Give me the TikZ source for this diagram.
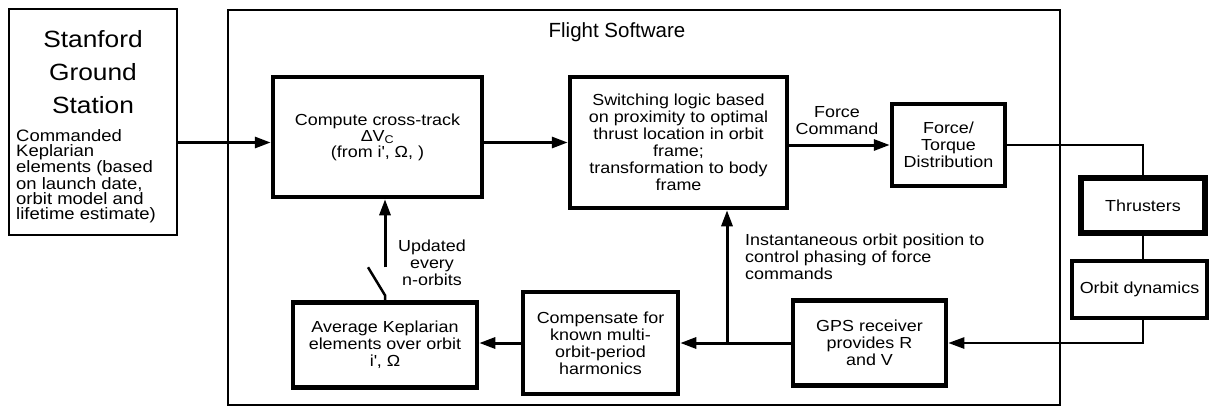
\documentclass[tikz,border=0pt]{standalone}
\usepackage{fontspec}
\setmainfont{Liberation Sans}[FakeStretch=1.12]
\newfontfamily\headfont{Liberation Sans}
\usetikzlibrary{arrows.meta,calc}

\begin{document}
\begin{tikzpicture}[x=1pt, y=-1pt,
    every node/.style={font=\fontsize{16}{17}\selectfont},
    blk/.style={draw, line width=4.5pt, align=center, inner sep=0pt},
    wire/.style={line width=2.5pt},
    arr/.style={line width=3pt, -{Triangle[length=16pt,width=11pt]}}]
  \useasboundingbox (0,0) rectangle (1210,408);

  % Ground station - left side
  \node[draw, line width=2.5pt, minimum width=168pt, minimum height=226pt] (ground) at (93,122) {};
  \node[font=\fontsize{23.5}{33}\selectfont, align=center] (gstitle) at (93,72) {Stanford\\Ground\\Station};
  \node[font=\fontsize{16.5}{15}\selectfont, align=left, anchor=west, inner sep=0pt] (gsnote) at (16,176) {Commanded\\Keplarian\\elements (based\\on launch date,\\orbit model and\\lifetime estimate)};

  % Flight software - middle
  \node[draw, line width=2pt, minimum width=832pt, minimum height=395pt] (flight) at (644,207.5) {};
  \node[font=\headfont\fontsize{20.5}{24}\selectfont] (fstitle) at (617,32) {Flight Software};

  \node[blk, minimum width=209pt, minimum height=120pt] (compute) at (377.5,137) {Compute cross-track\\[-1pt]ΔV\textsubscript{C}\\[-1pt](from i\textquotesingle, Ω, )};
  \node[blk, minimum width=217pt, minimum height=131pt] (logic) at (678.5,142.5) {Switching logic based\\on proximity to optimal\\thrust location in orbit\\frame;\\transformation to body\\frame};
  \node[blk, minimum width=113pt, minimum height=82pt] (ftd) at (948.5,145) {Force/\\Torque\\Distribution};
  \node[align=center] (fcmd) at (837,121) {Force\\Command};

  \node[blk, minimum width=153pt, minimum height=85pt] (gps) at (869.5,343) {GPS receiver\\provides R\\and V};
  \node[blk, minimum width=155pt, minimum height=102pt] (comp) at (600.5,343) {Compensate for\\known multi-\\orbit-period\\harmonics};
  \node[blk, minimum width=184pt, minimum height=85pt] (avg) at (385,345) {Average Keplarian\\elements over orbit\\i\textquotesingle, Ω};
  \node[align=center] (upd) at (432,263) {Updated\\every\\n-orbits};
  \node[align=left, anchor=west, inner sep=0pt] (inst) at (745,257) {Instantaneous orbit position to\\control phasing of force\\commands};

  % Spacecraft - right side
  \node[blk, line width=5.5pt, minimum width=124pt, minimum height=55pt] (thrust) at (1143,205.5) {Thrusters};
  \node[blk, minimum width=135pt, minimum height=57pt] (orbdyn) at (1139.5,289.5) {Orbit dynamics};

  % Upper path
  \draw[arr] (ground.east |- logic.west) -- (compute.west |- logic.west);
  \draw[arr] (compute.east |- logic.west) -- (logic.west);
  \draw[arr] (logic.east |- ftd.west) -- (ftd.west);
  \draw[wire] (ftd.east) -| (thrust.north);
  \draw[wire] (thrust.south) -- (thrust.south |- orbdyn.north);
  \draw[arr, line width=2.5pt] (thrust.south |- orbdyn.south) |- (gps.east);

  % Lower path
  \draw[arr] (gps.west) -- (comp.east);
  \coordinate (tap) at (727,343);
  \draw[arr] (tap) -- (tap |- logic.south);
  \draw[arr] (comp.west) -- (avg.east |- comp.west);

  % Open switch
  \coordinate (pivot) at ($(avg.north)+(0,-5)$);
  \coordinate (blade) at ($(avg.north)+(-17,-33)$);
  \coordinate (contact) at ($(avg.north)+(0,-33)$);
  \draw[line width=2.5pt] (avg.north) -- (pivot) -- (blade);
  \draw[arr] (contact) -- (contact |- compute.south);
\end{tikzpicture}
\end{document}
